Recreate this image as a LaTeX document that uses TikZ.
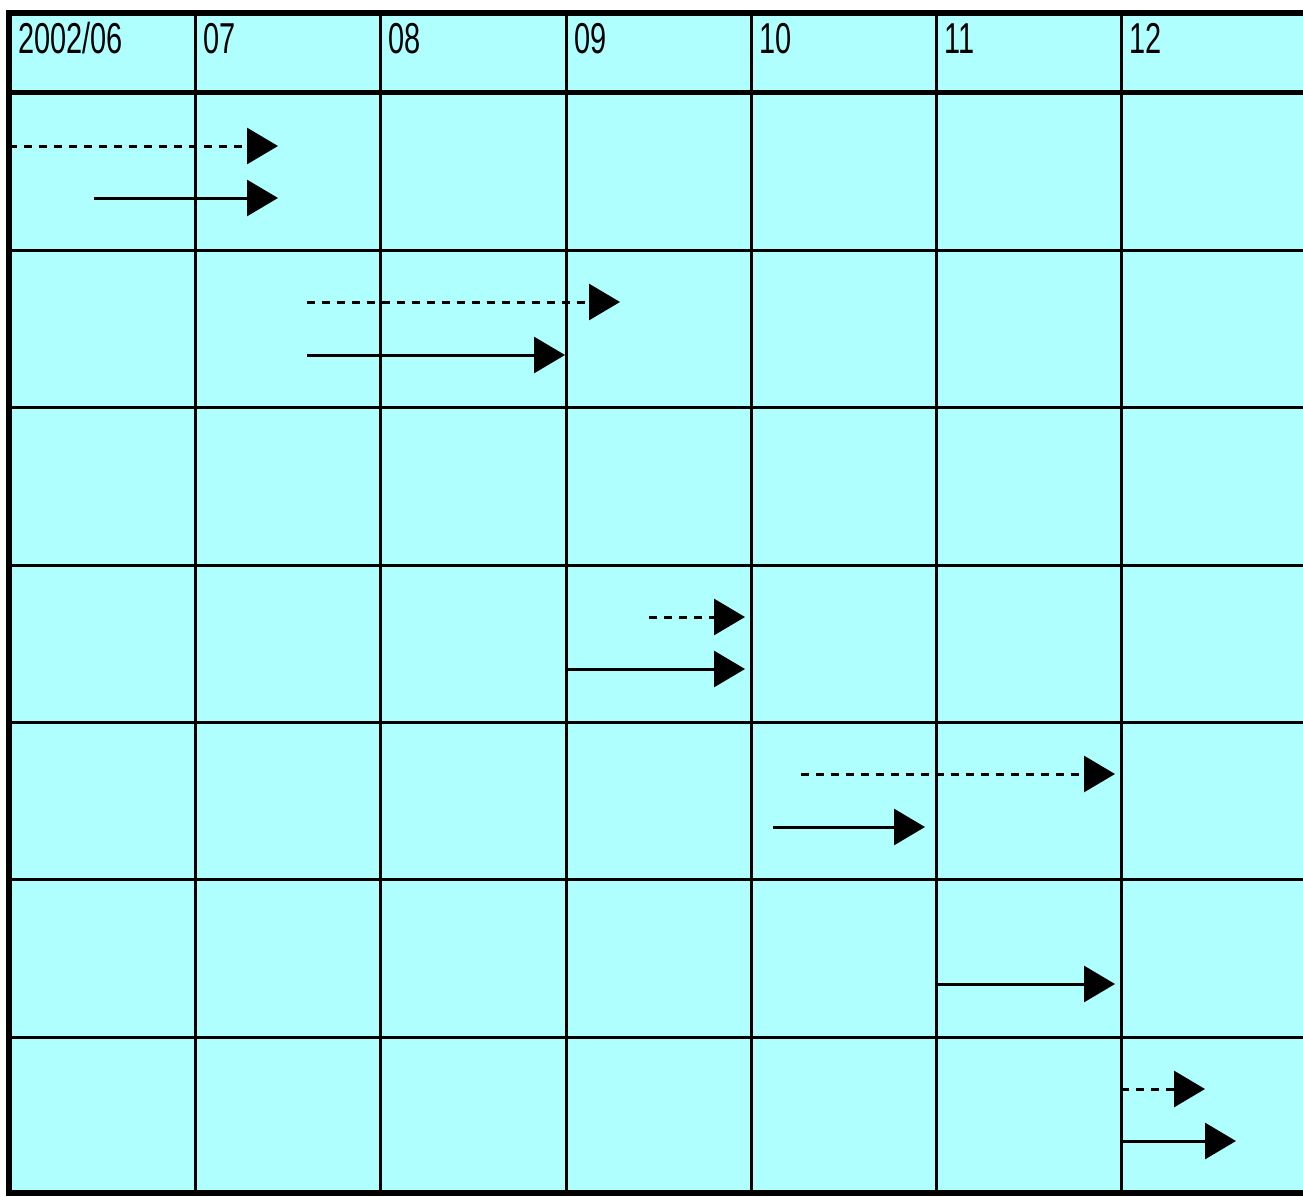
\documentclass[tikz,border=0pt]{standalone}
\usepackage{fontspec}
\usetikzlibrary{arrows.meta}
\newfontfamily\hdrfont[FakeStretch=0.67]{Liberation Sans}
\definecolor{chartbg}{RGB}{175,255,255}

\begin{document}
\begin{tikzpicture}[
      x=0.02cm, y=-0.02cm,
      gridline/.style={line width=0.06cm},
      frameline/.style={line width=0.12cm},
      plan/.style={line width=0.06cm, dash pattern=on 0.16cm off 0.14cm,
        -{Triangle[length=0.62cm,width=0.72cm]}},
      actual/.style={line width=0.06cm, -{Triangle[length=0.62cm,width=0.72cm]}},
      month/.style={anchor=base west, inner sep=0pt,
        font=\hdrfont\fontsize{24.6}{26}\selectfont}
    ]
      \useasboundingbox (0,0) rectangle (1303,1197);
      \fill[chartbg] (6,10) rectangle (1303,1196);

      % grid
      \foreach \x in {195.5,380.5,566,751,936,1121.5}
        \draw[gridline] (\x,13) -- (\x,1192);
      \foreach \y in {250,407,565,722,879,1037}
        \draw[gridline] (9,\y) -- (1303,\y);
      \draw[line width=0.1cm] (9,92) -- (1303,92);
      \draw[frameline] (1303,13) -- (9,13) -- (9,1192.5) -- (1303,1192.5);

      % month header
      \node[month] (m06) at (18,53) {2002/06};
      \foreach \x/\t in {203/07,388/08,574/09,759/10,944/11,1129/12}
        \node[month] (m\t) at (\x,53) {\t};

      % planned (dashed) and actual (solid) bars
      \foreach \n/\a/\b/\y in {1/9/278/146, 2/307/620/302, 4/649/745/617,
                               5/801/1115/774, 7/1121/1205/1089}{
        \coordinate (plan\n a) at (\a,\y);
        \coordinate (plan\n b) at (\b,\y);
        \draw[plan] (plan\n a) -- (plan\n b);
      }
      \foreach \n/\a/\b/\y in {1/94/278/198, 2/307/565/355, 4/566/745/669,
                               5/773/925/827, 6/936/1115/984, 7/1121/1236/1141}{
        \coordinate (done\n a) at (\a,\y);
        \coordinate (done\n b) at (\b,\y);
        \draw[actual] (done\n a) -- (done\n b);
      }
    \end{tikzpicture}
\end{document}
